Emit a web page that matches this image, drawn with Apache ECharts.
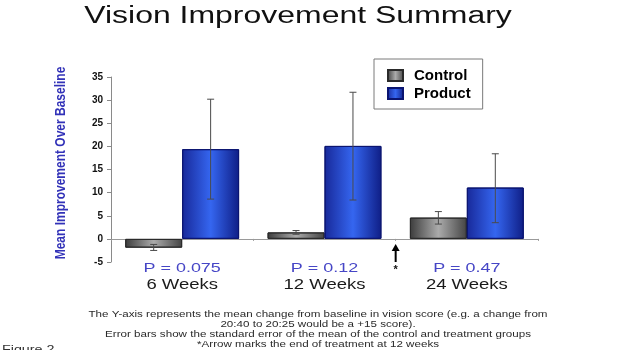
<!DOCTYPE html>
<html><head><meta charset="utf-8">
<script src="https://cdn.jsdelivr.net/npm/echarts@6/dist/echarts.min.js"></script>
<style>html,body{margin:0;padding:0;background:#fff}#c{width:630px;height:350px}</style>
</head><body><div id="c"></div>
<script>
// ---- data ----
const categories = ['6 Weeks', '12 Weeks', '24 Weeks'];
const pValues = ['P = 0.075', 'P = 0.12', 'P = 0.47'];
const controlMean = [-1.9, 1.4, 4.6];
const controlLow  = [-2.5, 1.0, 3.2];
const controlHigh = [-1.2, 1.8, 5.9];
const productMean = [19.4, 20.1, 11.1];
const productLow  = [8.6, 8.4, 3.5];
const productHigh = [30.2, 31.7, 18.4];
const yTicks = [-5, 0, 5, 10, 15, 20, 25, 30, 35];
const footnotes = [
  'The Y-axis represents the mean change from baseline in vision score (e.g. a change from',
  '20:40 to 20:25 would be a +15 score).',
  'Error bars show the standard error of the mean of the control and treatment groups',
  '*Arrow marks the end of treatment at 12 weeks'
];
const arrowAt = 1.5; // between 12 and 24 weeks

const FONT = 'Arial, "Liberation Sans", Helvetica, sans-serif';
const grad = (a, b, c) => new echarts.graphic.LinearGradient(0, 0, 1, 0, [
  {offset: 0, color: a}, {offset: 0.5, color: b}, {offset: 1, color: c}]);

const chart = echarts.init(document.getElementById('c'));

function errRender(meanOffset) {
  return function (params, api) {
    const i = api.value(0);
    const lo = api.coord([i, api.value(1)]);
    const hi = api.coord([i, api.value(2)]);
    const band = api.size([1, 0])[0];
    const x = lo[0] + meanOffset * band;
    const cw = 3.5;
    const st = {stroke: '#4a4a4a', lineWidth: 1};
    return {type: 'group', children: [
      {type: 'line', shape: {x1: x, y1: lo[1], x2: x, y2: hi[1]}, style: st},
      {type: 'line', shape: {x1: x - cw, y1: lo[1], x2: x + cw, y2: lo[1]}, style: st},
      {type: 'line', shape: {x1: x - cw, y1: hi[1], x2: x + cw, y2: hi[1]}, style: st}
    ]};
  };
}

chart.setOption({
  animation: false,
  backgroundColor: '#fff',
  grid: {left: 111, right: 92, top: 77, bottom: 88, containLabel: false},
  legend: {
    data: ['Control', 'Product'],
    orient: 'vertical', left: 374, top: 59, icon: 'rect',
    padding: [9, 12, 8, 13],
    itemWidth: 15, itemHeight: 11, itemGap: 3,
    borderColor: '#7a7a7a', borderWidth: 1, backgroundColor: '#fff',
    textStyle: {fontFamily: FONT, fontWeight: 'bold', fontSize: 15, color: '#000', padding: [0, 0, 0, 6]}
  },
  xAxis: {
    type: 'category', data: categories,
    axisLine: {onZero: true, lineStyle: {color: '#9a9a9a', width: 1}},
    axisTick: {show: true, length: 2, lineStyle: {color: '#9a9a9a'}},
    axisLabel: {show: false},
    splitLine: {show: false}
  },
  yAxis: {
    type: 'value', min: yTicks[0], max: yTicks[yTicks.length - 1], interval: 5,
    axisLine: {show: true, lineStyle: {color: '#8a8a8a'}},
    axisTick: {show: true, length: 4, lineStyle: {color: '#8a8a8a'}},
    axisLabel: {fontFamily: FONT, fontWeight: 'bold', fontSize: 10, color: '#111', margin: 8},
    splitLine: {show: false}
  },
  series: [
    {name: 'Control', type: 'bar', data: controlMean, barGap: '0%', barCategoryGap: '20%',
     itemStyle: {color: grad('#3c3c3c', '#ababab', '#444444'), borderColor: '#2a2a2a', borderWidth: 1}},
    {name: 'Product', type: 'bar', data: productMean, barGap: '0%', barCategoryGap: '20%',
     itemStyle: {color: grad('#18299a', '#3566f0', '#0f1e86'), borderColor: '#0a1470', borderWidth: 1}},
    {name: 'ctrlErr', type: 'custom', z: 5,
     data: categories.map((c, i) => [i, controlLow[i], controlHigh[i]]),
     renderItem: errRender(-0.2)},
    {name: 'prodErr', type: 'custom', z: 5,
     data: categories.map((c, i) => [i, productLow[i], productHigh[i]]),
     renderItem: errRender(0.2)}
  ]
});

// ---- annotation texts positioned through the axes ----
const g = [];
g.push({type: 'text', x: 298, y: 17, scaleX: 1.39,
  style: {text: 'Vision Improvement Summary', font: '23px ' + FONT, fill: '#111', align: 'center', verticalAlign: 'middle'}});
g.push({type: 'text', x: 61, y: 163, rotation: Math.PI / 2, scaleY: 1.25,
  style: {text: 'Mean Improvement Over Baseline', font: 'bold 12px ' + FONT, fill: '#3232b8', align: 'center', verticalAlign: 'middle'}});
const bottomPx = chart.convertToPixel({gridIndex: 0}, [0, yTicks[0]])[1];
categories.forEach((c, i) => {
  const px = chart.convertToPixel({gridIndex: 0}, [i, 0])[0];
  g.push({type: 'text', x: px, y: bottomPx + 6, scaleX: 1.38,
    style: {text: pValues[i], font: '13px ' + FONT, fill: '#4646c6', align: 'center', verticalAlign: 'middle'}});
  g.push({type: 'text', x: px, y: bottomPx + 23, scaleX: 1.32,
    style: {text: c, font: '14px ' + FONT, fill: '#1a1a1a', align: 'center', verticalAlign: 'middle'}});
});
const p1 = chart.convertToPixel({gridIndex: 0}, [Math.floor(arrowAt), 0]);
const p2 = chart.convertToPixel({gridIndex: 0}, [Math.ceil(arrowAt), 0]);
const ax = (p1[0] + p2[0]) / 2;
const zeroY = p1[1];
g.push({type: 'line', shape: {x1: ax, y1: zeroY + 11, x2: ax, y2: bottomPx}, style: {stroke: '#000', lineWidth: 2}});
g.push({type: 'polygon', shape: {points: [[ax, zeroY + 5], [ax - 4, zeroY + 12], [ax + 4, zeroY + 12]]}, style: {fill: '#000'}});
g.push({type: 'text', x: ax, y: bottomPx + 8, style: {text: '*', font: 'bold 11px ' + FONT, fill: '#111', align: 'center', verticalAlign: 'middle'}});
footnotes.forEach((t, i) => {
  g.push({type: 'text', x: 318, y: 315 + i * 10, scaleX: 1.29,
    style: {text: t, font: '9px ' + FONT, fill: '#2a2a2a', align: 'center', verticalAlign: 'middle'}});
});
g.push({type: 'text', x: 2, y: 350, scaleX: 1.3,
  style: {text: 'Figure 2', font: '11px ' + FONT, fill: '#333', align: 'left', verticalAlign: 'middle'}});
chart.setOption({graphic: g});
</script></body></html>
